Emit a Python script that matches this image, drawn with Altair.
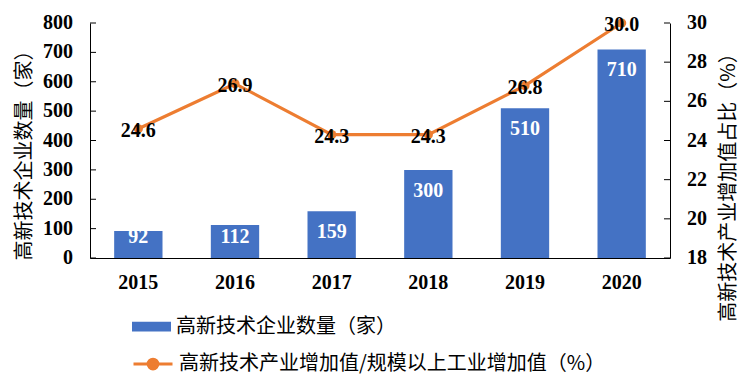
import altair as alt
import pandas as pd

years = ["2015", "2016", "2017", "2018", "2019", "2020"]
counts = [92, 112, 159, 300, 510, 710]
ratios = [24.6, 26.9, 24.3, 24.3, 26.8, 30.0]
left_ticks = [0, 100, 200, 300, 400, 500, 600, 700, 800]
right_ticks = [18, 20, 22, 24, 26, 28, 30]

bar_name = "高新技术企业数量（家）"
line_name = "高新技术产业增加值/规模以上工业增加值（%）"
left_title = "高新技术企业数量（家）"
right_title = "高新技术产业增加值占比（%）"

BLUE = "#4472C4"
ORANGE = "#ED7D31"
NUM_FONT = "Liberation Serif"
CJK_FONT = "Noto Sans CJK SC"

df = pd.DataFrame({"year": years, "count": counts, "ratio": ratios,
                   "s1": bar_name, "s2": line_name})
lt = pd.DataFrame({"v": left_ticks})
rt = pd.DataFrame({"v": right_ticks})

x_enc = alt.X("year:N",
              scale=alt.Scale(paddingInner=0.5, paddingOuter=0.25),
              axis=alt.Axis(title=None, labelAngle=0, ticks=False, domainColor="black",
                            labelFont=NUM_FONT, labelFontWeight="bold", labelFontSize=20,
                            labelColor="black", labelPadding=14))

left_scale = alt.Scale(domain=[0, 800], nice=False, zero=True)
right_scale = alt.Scale(domain=[18, 30], nice=False, zero=False)

left_axis = alt.Axis(values=left_ticks, grid=False, ticks=False, labels=False,
                     domainColor="black",
                     title=left_title, titleFont=CJK_FONT, titleFontSize=20,
                     titleFontWeight="normal", titleColor="black", titleLimit=1000,
                     titleAngle=270, titleX=-66, titleY=127,
                     titleAlign="center", titleBaseline="middle")

right_axis = alt.Axis(values=right_ticks, grid=False, ticks=False, labels=False,
                      domainColor="black", orient="right",
                      title=right_title, titleFont=CJK_FONT, titleFontSize=20,
                      titleFontWeight="normal", titleColor="black", titleLimit=1000,
                      titleAngle=270, titleX=58, titleY=159,
                      titleAlign="center", titleBaseline="middle")

bars = alt.Chart(df).mark_bar().encode(
    x=x_enc,
    y=alt.Y("count:Q", scale=left_scale, axis=left_axis),
    color=alt.Color("s1:N", scale=alt.Scale(domain=[bar_name], range=[BLUE]),
                    legend=alt.Legend(orient="none", legendX=42, legendY=284, title=None,
                                      symbolType="M-1,-0.25L1,-0.25L1,0.25L-1,0.25Z",
                                      symbolSize=1521, symbolStrokeWidth=0,
                                      labelFont=CJK_FONT, labelFontSize=20, labelLimit=1000,
                                      labelColor="black", labelOffset=5)),
)

bar_labels = alt.Chart(df).transform_calculate(
    pos="max(datum.count - 71.5, 70)"
).mark_text(font=NUM_FONT, fontWeight="bold", fontSize=20, color="white",
            baseline="middle", align="center").encode(
    x=alt.X("year:N"),
    y=alt.Y("pos:Q"),
    text=alt.Text("count:Q"),
)

left_tick_marks = alt.Chart(lt).mark_rule(color="black", strokeWidth=1).encode(
    x=alt.value(0), x2=alt.value(6), y=alt.Y("v:Q"))

left_tick_labels = alt.Chart(lt).mark_text(
    font=NUM_FONT, fontWeight="bold", fontSize=20, color="black",
    align="right", baseline="middle").encode(
    x=alt.value(-17), y=alt.Y("v:Q"), text=alt.Text("v:Q"))

left_layer = alt.layer(bars, bar_labels, left_tick_marks, left_tick_labels)

line = alt.Chart(df).mark_line(strokeWidth=3.2).encode(
    x=alt.X("year:N"),
    y=alt.Y("ratio:Q", scale=right_scale, axis=right_axis),
    stroke=alt.Stroke("s2:N", scale=alt.Scale(domain=[line_name], range=[ORANGE]),
                      legend=alt.Legend(orient="none", legendX=42, legendY=320, title=None,
                                        symbolType="M-1,0L1,0M0.25,0A0.25,0.25,0,1,1,-0.25,0A0.25,0.25,0,1,1,0.25,0",
                                        symbolSize=1521, symbolStrokeWidth=3,
                                        symbolFillColor=ORANGE,
                                        labelFont=CJK_FONT, labelFontSize=20, labelLimit=1000,
                                        labelColor="black", labelOffset=5)),
)

points = alt.Chart(df).mark_circle(size=85, opacity=1, color=ORANGE).encode(
    x=alt.X("year:N"), y=alt.Y("ratio:Q"))

line_labels = alt.Chart(df).mark_text(font=NUM_FONT, fontWeight="bold", fontSize=20,
                                      color="black", baseline="middle", align="center",
                                      dy=2).encode(
    x=alt.X("year:N"), y=alt.Y("ratio:Q"), text=alt.Text("ratio:Q", format=".1f"))

right_tick_marks = alt.Chart(rt).mark_rule(color="black", strokeWidth=1).encode(
    x=alt.value(574), x2=alt.value(580), y=alt.Y("v:Q"))

right_tick_labels = alt.Chart(rt).mark_text(
    font=NUM_FONT, fontWeight="bold", fontSize=20, color="black",
    align="left", baseline="middle").encode(
    x=alt.value(597), y=alt.Y("v:Q"), text=alt.Text("v:Q"))

right_layer = alt.layer(line, points, line_labels, right_tick_marks, right_tick_labels)

chart = alt.layer(left_layer, right_layer).resolve_scale(
    y="independent", color="independent", stroke="independent"
).properties(
    width=580, height=235,
    autosize=alt.AutoSizeParams(type="none"),
    padding={"left": 82, "top": 15, "right": 70, "bottom": 122},
    background="white",
).configure_view(stroke=None)

chart.save("out.html", embed_options={"renderer": "svg", "actions": False})
